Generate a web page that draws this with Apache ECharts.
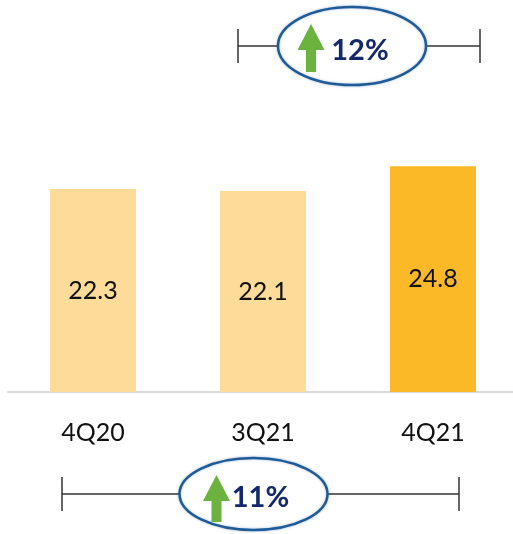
<!DOCTYPE html>
<html>
<head>
<meta charset="utf-8">
<script src="https://cdn.jsdelivr.net/npm/echarts@6/dist/echarts.min.js"></script>
<style>
  html, body { margin: 0; padding: 0; background: #fff; }
  #chart { width: 513px; height: 534px; }
</style>
</head>
<body>
<div id="chart"></div>
<script>
// Quarterly values
var categories = ['4Q20', '3Q21', '4Q21'];
var values = [22.3, 22.1, 24.8];
var barColors = ['#FDDC9A', '#FDDC9A', '#FBB827'];

var FONT = 'Lato, "Noto Sans", sans-serif';
var chart = echarts.init(document.getElementById('chart'), null, { renderer: 'canvas' });

// Growth of the latest quarter against the previous quarter and the year-ago quarter
var qoq = Math.round((values[2] / values[1] - 1) * 100) + '%';
var yoy = Math.round((values[2] / values[0] - 1) * 100) + '%';

// Bracket with a bubble holding an up arrow and a growth figure
function bracket(x1, x2, y, cx, rx, ry, arrowDx, arrowTop, arrowBottom, textDx, textDy, label) {
  var ax = cx + arrowDx;
  var headBase = y + arrowTop + 26;
  return [
    { type: 'line', shape: { x1: x1, y1: y, x2: x2, y2: y }, style: { stroke: '#333', lineWidth: 1.5 } },
    { type: 'line', shape: { x1: x1, y1: y - 17, x2: x1, y2: y + 17 }, style: { stroke: '#333', lineWidth: 1.5 } },
    { type: 'line', shape: { x1: x2, y1: y - 17, x2: x2, y2: y + 17 }, style: { stroke: '#333', lineWidth: 1.5 } },
    { type: 'ellipse', shape: { cx: cx, cy: y, rx: rx, ry: ry },
      style: { fill: '#fff', stroke: '#1F5B98', lineWidth: 2.5, shadowBlur: 3, shadowColor: 'rgba(31,91,152,0.35)' } },
    { type: 'polygon', shape: { points: [
        [ax - 13.5, headBase], [ax, y + arrowTop], [ax + 13.5, headBase],
        [ax + 5, headBase], [ax + 5, y + arrowBottom], [ax - 5, y + arrowBottom], [ax - 5, headBase]
      ] }, style: { fill: '#6CB23E' } },
    { type: 'text', x: cx + textDx, y: y + textDy,
      style: { text: label, font: 'bold 29px ' + FONT, fill: '#14296B', align: 'center', verticalAlign: 'middle' } }
  ];
}

var option = {
  animation: false,
  grid: { left: 8, width: 510, top: 119, bottom: 142, containLabel: false, outerBoundsMode: 'none' },
  xAxis: {
    type: 'category',
    data: categories,
    axisTick: { show: false },
    axisLine: { lineStyle: { color: '#D9D9D9', width: 2 } },
    axisLabel: { color: '#111', fontFamily: FONT, fontSize: 25, margin: 28 }
  },
  yAxis: {
    type: 'value', min: 0, max: 30, show: false, splitLine: { show: false }
  },
  series: [{
    type: 'bar',
    barWidth: 86,
    data: values.map(function (v, i) { return { value: v, itemStyle: { color: barColors[i] } }; }),
    label: {
      show: true, position: 'inside', color: '#111', fontFamily: FONT, fontSize: 25
    }
  }],
  graphic: [].concat(
    bracket(238, 480, 46, 352, 74, 39, -41, -22, 26, 8, 5, qoq),
    bracket(62, 459, 494, 253.5, 74, 36, -37, -19, 28, 7, 4, yoy)
  )
};
chart.setOption(option);
</script>
</body>
</html>
